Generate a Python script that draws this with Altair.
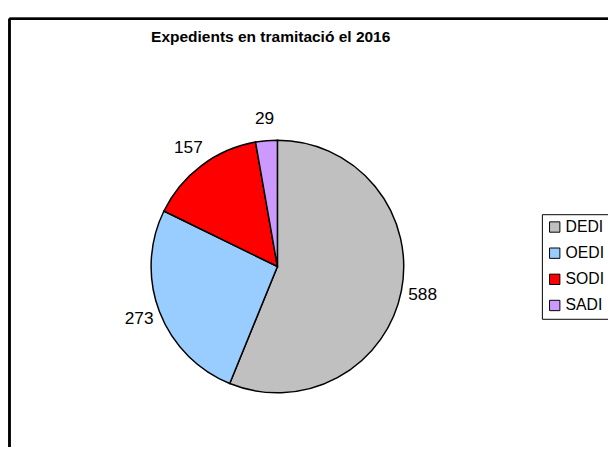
import altair as alt
import pandas as pd

categories = ["DEDI", "OEDI", "SODI", "SADI"]
values = [588, 273, 157, 29]
colors = ["#C0C0C0", "#99CCFF", "#FF0000", "#CC99FF"]
title_text = "Expedients en tramitació el 2016"

df = pd.DataFrame({"cat": categories, "val": values, "idx": list(range(len(categories)))})

W, H = 608, 442
FONT = "Liberation Sans"

base = alt.Chart(df).encode(
    theta=alt.Theta("val:Q", stack=True),
    order=alt.Order("idx:Q"),
)

pie = base.mark_arc(outerRadius=128, stroke="black", strokeWidth=1.5).encode(
    x=alt.value(273),
    y=alt.value(259),
    color=alt.Color(
        "cat:N",
        scale=alt.Scale(domain=categories, range=colors),
        legend=alt.Legend(
            title=None,
            orient="none",
            legendX=541,
            legendY=206,
            symbolType="square",
            symbolSize=110,
            symbolStrokeColor="black",
            symbolStrokeWidth=1,
            symbolOpacity=1,
            labelFont=FONT,
            labelFontSize=16,
            labelColor="black",
            labelOffset=3,
            rowPadding=10.5,
            padding=5,
            strokeColor="black",
            fillColor="white",
        ),
    ),
)

labels = base.mark_text(radius=150, font=FONT, fontSize=17.5, color="black").encode(
    x=alt.value(273),
    y=alt.value(259),
    text=alt.Text("val:Q"),
)

frame_left = alt.Chart(df).mark_rule(color="black", strokeWidth=2).encode(
    x=alt.value(1.5), y=alt.value(8), y2=alt.value(H)
)
frame_top = alt.Chart(df).mark_rule(color="black", strokeWidth=2).encode(
    x=alt.value(1.5), x2=alt.value(W), y=alt.value(8)
)

chart = alt.layer(frame_left, frame_top, pie, labels).properties(
    width=W,
    height=H,
    padding=0,
    autosize=alt.AutoSizeParams(type="none"),
    title=alt.Title(
        title_text,
        font=FONT,
        fontSize=15.7,
        fontWeight="bold",
        color="black",
        anchor="start",
        offset=-35,
        dx=145,
    ),
).configure_view(stroke=None)

chart.save("out.html", embed_options={"renderer": "svg", "actions": False})
